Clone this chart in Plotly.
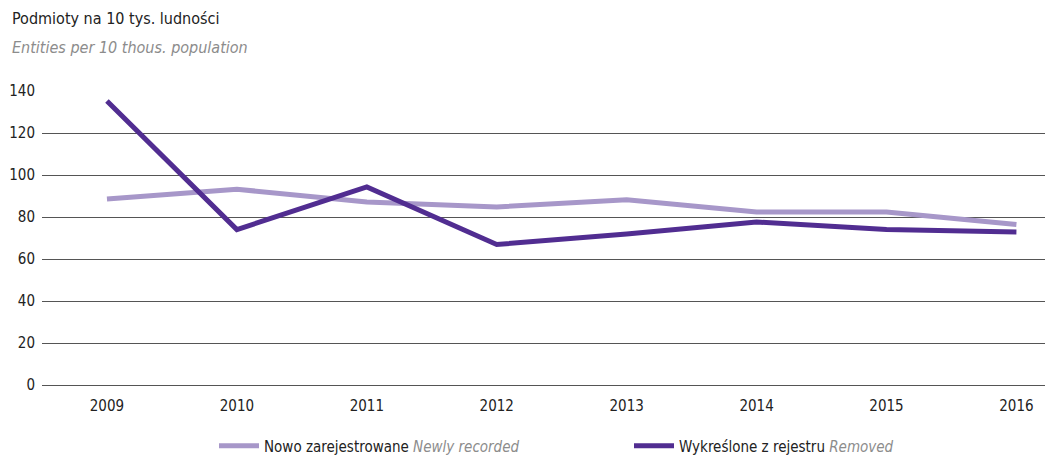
import plotly.graph_objects as go

years = ["2009", "2010", "2011", "2012", "2013", "2014", "2015", "2016"]
newly_recorded = [88.6, 93.2, 87.2, 84.8, 88.2, 82.4, 82.4, 76.4]
removed = [135.2, 74.0, 94.3, 66.9, 71.9, 77.6, 74.0, 72.9]
y_ticks = [0, 20, 40, 60, 80, 100, 120, 140]

FONT = "DejaVu Sans Condensed, Liberation Sans, sans-serif"
LIGHT = "#a797c9"
DARK = "#512d91"

x_pos = list(range(len(years)))

fig = go.Figure()

fig.add_trace(
    go.Scatter(
        x=x_pos,
        y=newly_recorded,
        mode='lines',
        line=dict(color=LIGHT, width=5),
        name="Nowo zarejestrowane <i><span style='color:#8c8c8c'>Newly recorded</span></i>",
    )
)

fig.add_trace(
    go.Scatter(
        x=x_pos,
        y=removed,
        mode='lines',
        line=dict(color=DARK, width=5),
        name="Wykreślone z rejestru <i><span style='color:#8c8c8c'>Removed</span></i>",
    )
)

# plot area in pixels: x 42..1045, y 91..385
plot_w = 1057 - 42 - 12
plot_h = 456 - 91 - 71

fig.add_annotation(text="Podmioty na 10 tys. ludności", xref='paper', yref='paper',
                   x=-32 / plot_w, y=1 + (91 - 19) / plot_h, xanchor='left', yanchor='middle',
                   showarrow=False, font=dict(family=FONT, size=16, color="#222"))
fig.add_annotation(text="<i>Entities per 10 thous. population</i>", xref='paper', yref='paper',
                   x=-32 / plot_w, y=1 + (91 - 47) / plot_h, xanchor='left', yanchor='middle',
                   showarrow=False, font=dict(family=FONT, size=16, color="#8c8c8c"))

fig.update_layout(
    width=1057,
    height=456,
    paper_bgcolor='white',
    plot_bgcolor='white',
    margin={"l": 42, "r": 12, "t": 91, "b": 71},
    font=dict(family=FONT, size=15, color="#222"),
    showlegend=True,
    legend=dict(orientation='h', xref='container', yref='container',
                x=214 / 1057, xanchor='left', y=1 - 446 / 456, yanchor='middle',
                font=dict(family=FONT, size=15, color="#222"), entrywidth=360,
                itemwidth=40, bgcolor='rgba(0,0,0,0)'),
)

fig.update_xaxes(
    range=[-0.5, 7.22],
    tickvals=x_pos,
    ticktext=years,
    showgrid=False,
    zeroline=False,
    showline=False,
    ticks='',
    automargin=False,
    ticklabelstandoff=10,
)
fig.update_yaxes(
    range=[0, 140],
    tickvals=y_ticks,
    showgrid=True,
    gridcolor="#555",
    gridwidth=1,
    zeroline=True,
    zerolinecolor="#555",
    zerolinewidth=1,
    showline=False,
    automargin=False,
    ticklabelstandoff=6,
)

fig.write_html("out.html", config={"displayModeBar": False},
               post_script="document.body.style.margin='0';document.body.style.overflow='hidden';")
